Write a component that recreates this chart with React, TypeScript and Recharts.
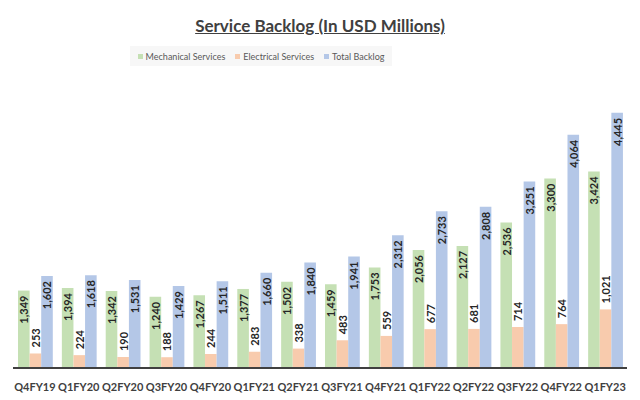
import React from "react";
import { BarChart, Bar, XAxis, YAxis, LabelList } from "recharts";

const quarters = [
  "Q4FY19", "Q1FY20", "Q2FY20", "Q3FY20", "Q4FY20", "Q1FY21", "Q2FY21",
  "Q3FY21", "Q4FY21", "Q1FY22", "Q2FY22", "Q3FY22", "Q4FY22", "Q1FY23",
];
const mechanical = [1349, 1394, 1342, 1240, 1267, 1377, 1502, 1459, 1753, 2056, 2127, 2536, 3300, 3424];
const electrical = [253, 224, 190, 188, 244, 283, 338, 483, 559, 677, 681, 714, 764, 1021];
const total = [1602, 1618, 1531, 1429, 1511, 1660, 1840, 1941, 2312, 2733, 2808, 3251, 4064, 4445];

const series = [
  { key: "mech", name: "Mechanical Services", color: "#C5E0B4" },
  { key: "elec", name: "Electrical Services", color: "#F8CBAD" },
  { key: "total", name: "Total Backlog", color: "#B4C7E7" },
];

const data = quarters.map((q, i) => ({
  q,
  mech: mechanical[i],
  elec: electrical[i],
  total: total[i],
}));

const FONT = "Lato, 'Liberation Sans', sans-serif";

// rotated value inside the top of the bar
function InsideLabel(props: any) {
  const { x, y, width, value } = props;
  const cx = x + width / 2;
  const ty = y + 5;
  return (
    <text
      x={cx}
      y={ty}
      transform={`rotate(-90 ${cx} ${ty})`}
      textAnchor="end"
      dominantBaseline="central"
      fontSize={11}
      fontWeight={700}
      fill="#262626"
      fontFamily={FONT}
    >
      {Number(value).toLocaleString("en-US")}
    </text>
  );
}

// rotated value above the bar
function OutsideLabel(props: any) {
  const { x, y, width, value } = props;
  const cx = x + width / 2;
  const ty = y - 6;
  return (
    <text
      x={cx}
      y={ty}
      transform={`rotate(-90 ${cx} ${ty})`}
      textAnchor="start"
      dominantBaseline="central"
      fontSize={11}
      fontWeight={700}
      fill="#262626"
      fontFamily={FONT}
    >
      {Number(value).toLocaleString("en-US")}
    </text>
  );
}

function QuarterTick(props: any) {
  const { x, y, payload } = props;
  return (
    <text
      x={x}
      y={y + 15}
      textAnchor="middle"
      fontSize={11}
      fontWeight={700}
      fill="#404040"
      fontFamily={FONT}
    >
      {payload.value}
    </text>
  );
}

export default function App() {
  return (
    <div
      style={{
        position: "absolute",
        left: 0,
        top: 0,
        width: 640,
        height: 400,
        background: "#fff",
        fontFamily: FONT,
      }}
    >
      <div
        style={{
          position: "absolute",
          top: 15,
          left: 0,
          width: 640,
          textAlign: "center",
          fontSize: 17,
          fontWeight: 700,
          color: "#404040",
          textDecoration: "underline",
        }}
      >
        Service Backlog (In USD Millions)
      </div>
      <div
        style={{
          position: "absolute",
          top: 46,
          left: 130,
          width: 262,
          height: 20,
          background: "#F7F7F7",
          display: "flex",
          alignItems: "center",
          justifyContent: "center",
          gap: 10,
          fontSize: 9,
          color: "#595959",
          whiteSpace: "nowrap",
        }}
      >
        {series.map((s) => (
          <div key={s.key} style={{ display: "flex", alignItems: "center", gap: 3 }}>
            <span style={{ width: 5, height: 5, background: s.color, display: "inline-block" }} />
            {s.name}
          </div>
        ))}
      </div>
      <BarChart
        width={640}
        height={400}
        data={data}
        margin={{ top: 81, right: 13, left: 13, bottom: 8 }}
        barSize={11.6}
        barGap={0}
      >
        <XAxis
          dataKey="q"
          height={24}
          tickLine={false}
          axisLine={{ stroke: "#404040", strokeWidth: 2 }}
          tick={<QuarterTick />}
          interval={0}
        />
        <YAxis hide domain={[0, 5000]} />
        <Bar dataKey="mech" fill="#C5E0B4" isAnimationActive={false}>
          <LabelList dataKey="mech" content={<InsideLabel />} />
        </Bar>
        <Bar dataKey="elec" fill="#F8CBAD" isAnimationActive={false}>
          <LabelList dataKey="elec" content={<OutsideLabel />} />
        </Bar>
        <Bar dataKey="total" fill="#B4C7E7" isAnimationActive={false}>
          <LabelList dataKey="total" content={<InsideLabel />} />
        </Bar>
      </BarChart>
    </div>
  );
}
